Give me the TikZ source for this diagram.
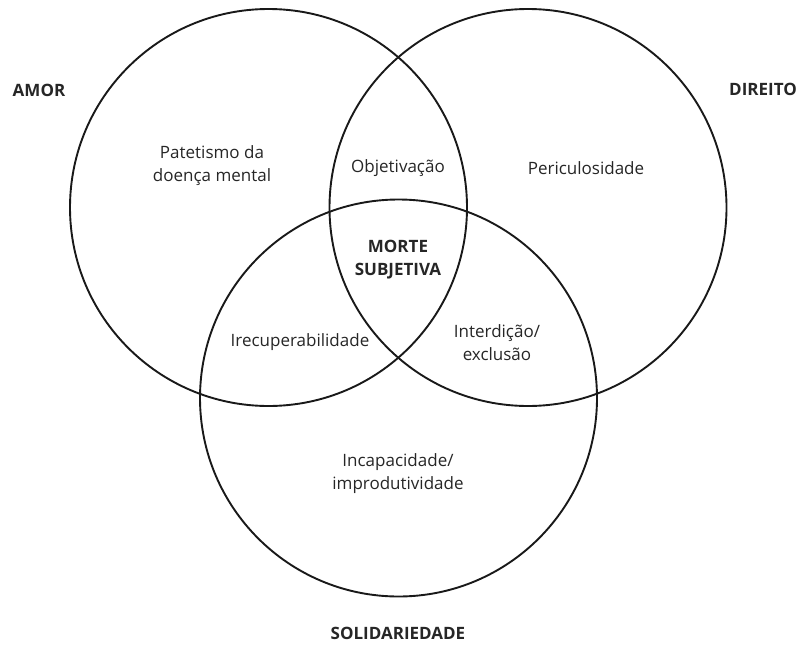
\documentclass[tikz,border=0pt]{standalone}
\usepackage{fontspec}
\setmainfont{Open Sans}
\usetikzlibrary{positioning}

\begin{document}
\begin{tikzpicture}[x=1pt, y=-1pt,
  ring/.style={draw=black!90, line width=1.9pt},
  area/.style={align=center, font=\fontsize{17}{23}\selectfont, text=black!85},
  pole/.style={align=center, font=\fontsize{17}{23}\selectfont\bfseries, text=black!85},
]
\useasboundingbox (0,0) rectangle (808,645);

% the three circles
\coordinate (camor)    at (268.5, 207.5);
\coordinate (cdireito) at (528,   207.5);
\coordinate (csolid)   at (398.5, 398);
\foreach \c in {camor, cdireito, csolid}
  \draw[ring] (\c) circle (198.5);

% pole labels
\node[pole] (amor)    at (39,  90)  {AMOR};
\node[pole] (direito) at (763, 89)  {DIREITO};
\node[pole] (solid)   at (398, 633) {SOLIDARIEDADE};

% regions
\node[area] (patet)  at (212, 166) {Patetismo da\\doença mental};
\node[area] (objet)  at (398, 168) {Objetivação};
\node[area] (peric)  at (586, 168) {Periculosidade};
\node[pole] (morte)  at (398, 260) {MORTE\\SUBJETIVA};
\node[area] (irrec)  at (300, 342) {Irecuperabilidade};
\node[area] (inter)  at (497, 343) {Interdição/\\exclusão};
\node[area] (incap)  at (398, 474) {Incapacidade/\\improdutividade};
\end{tikzpicture}
\end{document}
